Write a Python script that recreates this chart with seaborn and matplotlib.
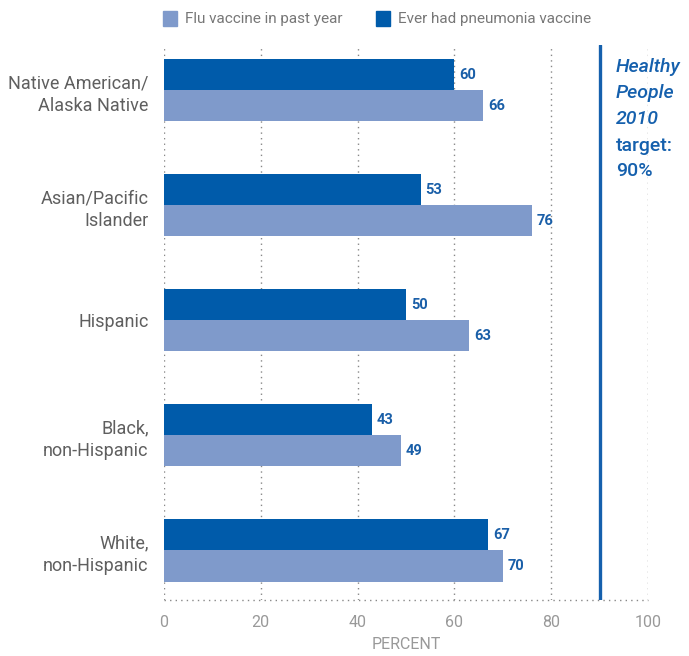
import matplotlib
matplotlib.use("Agg")
import matplotlib.pyplot as plt
import seaborn as sns
import pandas as pd
from matplotlib.patches import Rectangle

groups = ["Native American/\nAlaska Native", "Asian/Pacific\nIslander", "Hispanic",
          "Black,\nnon-Hispanic", "White,\nnon-Hispanic"]
pneumonia = [60, 53, 50, 43, 67]
flu = [66, 76, 63, 49, 70]
series = ["Ever had pneumonia vaccine", "Flu vaccine in past year"]
target = 90
xticks = [0, 20, 40, 60, 80, 100]

dark = "#005BAA"
light = "#7F9ACB"
label_blue = "#1A5FA8"

df = pd.DataFrame({
    "group": groups * 2,
    "series": [series[0]] * len(groups) + [series[1]] * len(groups),
    "value": pneumonia + flu,
})

sns.set_theme(style="white")
plt.rcParams["font.family"] = ["Roboto", "DejaVu Sans"]

fig = plt.figure(figsize=(6.89, 6.56), dpi=100)
ax = fig.add_axes([0.238, 0.0854, 0.7025, 0.8456])

sns.barplot(data=df, y="group", x="value", hue="series", hue_order=series,
            order=groups, palette=[dark, light], orient="h", width=0.54,
            dodge=True, saturation=1, legend=False, ax=ax, edgecolor="none",
            linewidth=0)

for cont in ax.containers:
    for bar in cont:
        w = bar.get_width()
        y = bar.get_y() + bar.get_height() / 2
        ax.text(w + 1.0, y, f"{w:.0f}", va="center", ha="left",
                fontsize=10.5, fontweight="bold", color=label_blue)

ax.set_xlim(0, 100)
ax.set_ylim(4.43, -0.39)
ax.set_xticks(xticks)
ax.set_xticklabels([str(t) for t in xticks], color="#999999", fontsize=11.5)
ax.tick_params(axis="x", length=0, pad=11)
ax.tick_params(axis="y", length=0, pad=11)
for lab in ax.get_yticklabels():
    lab.set_fontsize(13)
    lab.set_color("#5f5f5f")
    lab.set_horizontalalignment("right")
    lab.set_multialignment("right")
    lab.set_linespacing(1.35)
ax.set_ylabel("")
ax.set_xlabel("PERCENT", color="#999999", fontsize=11.5, labelpad=5)

for s in ax.spines.values():
    s.set_visible(False)

for t in xticks:
    ax.axvline(t, color="#888888", linestyle=(0, (1, 3)), linewidth=1.0, zorder=0)
ax.axhline(4.43, color="#888888", linestyle=(0, (1, 3)), linewidth=1.0, zorder=0,
           clip_on=False)

ax.axvline(target, color="#1560AD", linewidth=2.4, zorder=3)

tx = 0.894
lines = [("Healthy", "italic", 0.898), ("People", "italic", 0.858),
         ("2010", "italic", 0.819), ("target:", "normal", 0.778),
         ("90%", "normal", 0.739)]
for txt, st, yy in lines:
    fig.text(tx, yy, txt, fontsize=14, style=st, fontweight="medium",
             color="#1560AD", ha="left", va="center")

# legend
W, H = 689, 656
leg_items = [(163, light, series[1]), (376, dark, series[0])]
for x0, c, lab in leg_items:
    fig.patches.append(Rectangle((x0 / W, (H - 26) / H), 14 / W, 15 / H,
                                 transform=fig.transFigure, color=c, figure=fig))
    fig.text((x0 + 22) / W, (H - 19) / H, lab, fontsize=11, color="#777777",
             ha="left", va="center")

fig.savefig("out.png", dpi=100)
